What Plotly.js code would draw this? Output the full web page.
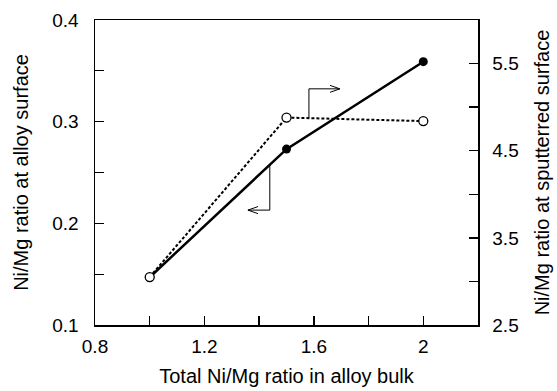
<!DOCTYPE html>
<html>
<head>
<meta charset="utf-8">
<script src="https://cdn.plot.ly/plotly-3.0.1.min.js"></script>
<style>html,body{margin:0;padding:0;background:#fff;}#chart{width:557px;height:391px;}</style>
</head>
<body>
<div id="chart"></div>
<script>
// Data
const bulkRatio = [1.0, 1.5, 2.0];
const surfaceRatio = [0.147, 0.273, 0.359];      // left axis, solid line, filled markers
const sputteredRatio = [3.05, 4.88, 4.84];       // right axis, dashed line, open markers

const xTickVals = [0.8, 1.0, 1.2, 1.4, 1.6, 1.8, 2.0, 2.2];
const xTickText = ['0.8', '', '1.2', '', '1.6', '', '2', ''];
const yTickVals = [0.1, 0.15, 0.2, 0.25, 0.3, 0.35, 0.4];
const yTickText = ['0.1', '', '0.2', '', '0.3', '', '0.4'];
const y2TickVals = [2.5, 3.0, 3.5, 4.0, 4.5, 5.0, 5.5];
const y2TickText = ['2.5', '', '3.5', '', '4.5', '', '5.5'];

const fam = 'Liberation Sans, Arial, Helvetica, sans-serif';
const tickFont = {family: fam, size: 19, color: '#000'};
const titleFont = {family: fam, size: 20, color: '#000'};

const traces = [
  {
    x: bulkRatio, y: surfaceRatio, yaxis: 'y', type: 'scatter', mode: 'lines+markers',
    line: {color: '#000', width: 2.5},
    marker: {color: '#000', size: 9, symbol: 'circle'},
    hoverinfo: 'none', showlegend: false
  },
  {
    x: bulkRatio, y: sputteredRatio, yaxis: 'y2', type: 'scatter', mode: 'lines+markers',
    line: {color: '#000', width: 2, dash: '3px,2px'},
    marker: {color: '#fff', size: 9, symbol: 'circle', line: {color: '#000', width: 1.3}},
    hoverinfo: 'none', showlegend: false
  }
];

const axisCommon = {
  showline: true, linecolor: '#000', linewidth: 1.5,
  ticks: 'inside', ticklen: 9, tickwidth: 1.3, tickcolor: '#000',
  showgrid: false, zeroline: false, tickfont: tickFont
};

const layout = {
  width: 557, height: 391,
  margin: {l: 95, r: 79, t: 20, b: 66},
  paper_bgcolor: '#fff', plot_bgcolor: '#fff',
  font: tickFont,
  xaxis: Object.assign({}, axisCommon, {
    range: [0.8, 2.2], tickmode: 'array', tickvals: xTickVals, ticktext: xTickText,
    mirror: true, ticklabelstandoff: 4,
    title: {text: 'Total Ni/Mg ratio in alloy bulk', font: titleFont, standoff: 12}
  }),
  yaxis: Object.assign({}, axisCommon, {
    range: [0.1, 0.4], tickmode: 'array', tickvals: yTickVals, ticktext: yTickText,
    ticklabelstandoff: 11,
    title: {text: 'Ni/Mg ratio at alloy surface', font: titleFont, standoff: 18}
  }),
  yaxis2: Object.assign({}, axisCommon, {
    range: [2.5, 6.0], overlaying: 'y', side: 'right',
    tickmode: 'array', tickvals: y2TickVals, ticktext: y2TickText,
    ticklabelstandoff: 9,
    title: {text: 'Ni/Mg ratio at sputterred surface', font: titleFont, standoff: 17}
  }),
  shapes: [
    // arrow pointing to right axis (from dashed line)
    {type: 'path', xref: 'x', yref: 'y2',
     path: 'M 1.582 4.875 L 1.582 5.21 L 1.695 5.21 M 1.659 5.25 L 1.695 5.21 L 1.659 5.17',
     line: {color: '#000', width: 1}},
    // arrow pointing to left axis (from solid line)
    {type: 'path', xref: 'x', yref: 'y',
     path: 'M 1.439 0.258 L 1.439 0.213 L 1.359 0.213 M 1.396 0.2165 L 1.359 0.213 L 1.396 0.2095',
     line: {color: '#000', width: 1}}
  ]
};

Plotly.newPlot('chart', traces, layout, {staticPlot: true, displayModeBar: false});
</script>
</body>
</html>
